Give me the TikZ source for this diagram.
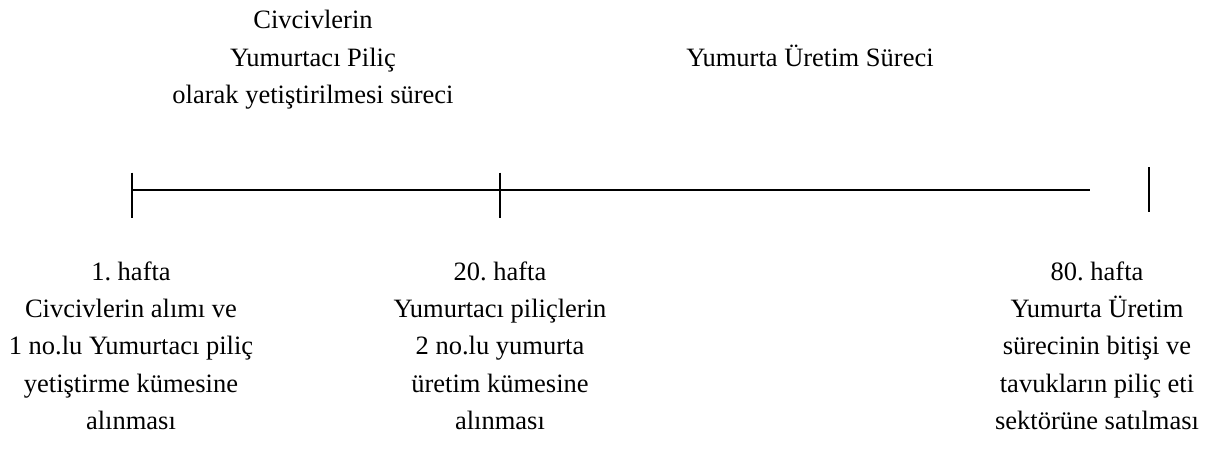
\documentclass[tikz,border=0pt]{standalone}
\usepackage{fontspec}
\setmainfont{Liberation Serif}
\frenchspacing
\begin{document}
\begin{tikzpicture}[x=1pt,y=-1pt,
  txt/.style={inner sep=0pt, align=center, font=\rmfamily\fontsize{26.5}{37.3}\selectfont},
  axis/.style={line width=2pt, black}]
\useasboundingbox (0,0) rectangle (1217,471);
% timeline points
\coordinate (start) at (132,190);
\coordinate (mid) at (500,190);
\coordinate (lineend) at (1090,190);
\coordinate (s1) at (132,172.5); \coordinate (s2) at (132,217.5);
\coordinate (m1) at (500,172.5); \coordinate (m2) at (500,217.5);
\coordinate (e1) at (1149,167);  \coordinate (e2) at (1149,211.5);
\draw[axis] (start) -- (lineend);
\draw[axis] (s1) -- (s2);
\draw[axis] (m1) -- (m2);
\draw[axis] (e1) -- (e2);
% phase titles
\node[txt, anchor=north] (rearing) at (313,2.4)
  {\strut Civcivlerin\\Yumurtacı Piliç\\olarak yetiştirilmesi süreci};
\node[txt, anchor=base] (production) at (810,66) {Yumurta Üretim Süreci};
% milestones
\node[txt, anchor=north] (week1) at (131,253.9)
  {\strut 1. hafta\\Civcivlerin alımı ve\\1 no.lu Yumurtacı piliç\\yetiştirme kümesine\\alınması};
\node[txt, anchor=north] (week20) at (500,253.9)
  {\strut 20. hafta\\Yumurtacı piliçlerin\\2 no.lu yumurta\\üretim kümesine\\alınması};
\node[txt, anchor=north] (week80) at (1097,253.9)
  {\strut 80. hafta\\Yumurta Üretim\\sürecinin bitişi ve\\tavukların piliç eti\\sektörüne satılması};
\end{tikzpicture}
\end{document}
